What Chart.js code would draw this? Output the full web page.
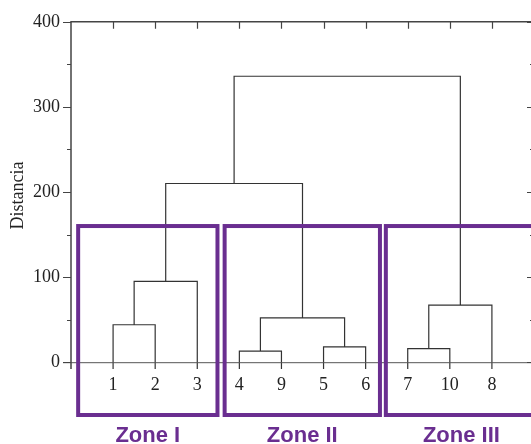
<!DOCTYPE html>
<html lang="es">
<head>
<meta charset="UTF-8">
<title>Dendrograma - Distancia</title>
<script src="https://cdn.jsdelivr.net/npm/chart.js"></script>
<style>
  html, body { margin: 0; padding: 0; background: #fff; overflow: hidden; }
</style>
</head>
<body>
<canvas id="chart" width="540" height="444"></canvas>
<script>
// hojas del dendrograma, en el orden en que se dibujan
const leafLabels = ['1', '2', '3', '4', '9', '5', '6', '7', '10', '8'];
// uniones tipo linkage: indices 0-9 son hojas, 10+ son uniones previas
const mergeA = [0, 3, 5, 7, 10, 11, 13, 14, 17];
const mergeB = [1, 4, 6, 8, 2, 12, 9, 15, 16];
const mergeHeight = [44, 13, 18, 16, 95, 52, 67, 210, 336];
const yTickLabels = [0, 100, 200, 300, 400];
const zoneNames = ['Zone I', 'Zone II', 'Zone III'];

// estilo / posiciones de los recuadros (unidades del eje x)
const Y_MIN = -8, Y_MAX = 400;
const zoneBox = { left: [0.17, 3.65, 7.48], right: [3.48, 7.34, 11.07], top: 160 };
const purple = '#6a2e90';
const lineCol = '#333';
const serif = "'Liberation Serif', 'Times New Roman', serif";

// construir los trazos en U a partir del linkage
const nodeX = leafLabels.map((_, i) => i + 1);
const nodeY = leafLabels.map(() => Y_MIN);
const points = [];
for (let i = 0; i < mergeA.length; i++) {
    const a = mergeA[i], b = mergeB[i], h = mergeHeight[i];
    points.push({x: nodeX[a], y: nodeY[a]}, {x: nodeX[a], y: h},
                {x: nodeX[b], y: h}, {x: nodeX[b], y: nodeY[b]},
                {x: nodeX[b], y: null});
    nodeX.push((nodeX[a] + nodeX[b]) / 2);
    nodeY.push(h);
}

const framePlugin = {
    id: 'frame',
    afterDatasetsDraw(chart) {
        const {ctx, chartArea: a, scales: {x, y}} = chart;
        ctx.save();
        // linea del cero
        ctx.strokeStyle = '#555';
        ctx.lineWidth = 1;
        ctx.beginPath();
        ctx.moveTo(a.left - 8, y.getPixelForValue(0) + 0.5);
        ctx.lineTo(a.right, y.getPixelForValue(0) + 0.5);
        ctx.stroke();

        // marco: izquierda, arriba, derecha
        ctx.strokeStyle = '#444';
        ctx.lineWidth = 1.5;
        ctx.beginPath();
        ctx.moveTo(a.left, a.bottom);
        ctx.lineTo(a.left, a.top);
        ctx.lineTo(a.right, a.top);
        ctx.lineTo(a.right, a.bottom);
        ctx.stroke();

        // marcas del eje y (afuera a la izquierda, adentro a la derecha)
        ctx.lineWidth = 1.2;
        ctx.beginPath();
        for (let v = 0; v <= Y_MAX; v += 50) {
            const py = Math.round(y.getPixelForValue(v)) + 0.5;
            const major = v % 100 === 0;
            ctx.moveTo(a.left, py);
            ctx.lineTo(a.left - (major ? 8 : 4), py);
            ctx.moveTo(a.right, py);
            ctx.lineTo(a.right - (major ? 7 : 4), py);
        }
        // marcas superiores hacia adentro
        leafLabels.forEach((_, i) => {
            const px = Math.round(x.getPixelForValue(i + 1)) + 0.5;
            ctx.moveTo(px, a.top);
            ctx.lineTo(px, a.top + 7);
        });
        ctx.stroke();

        // recuadros de zonas
        ctx.strokeStyle = purple;
        ctx.lineWidth = 4;
        const top = y.getPixelForValue(zoneBox.top);
        const bottom = a.bottom + 46;
        ctx.fillStyle = purple;
        ctx.font = "bold 22px 'Liberation Sans', Arial, sans-serif";
        ctx.textAlign = 'center';
        ctx.textBaseline = 'middle';
        zoneNames.forEach((name, i) => {
            const l = x.getPixelForValue(zoneBox.left[i]);
            const r = x.getPixelForValue(zoneBox.right[i]);
            ctx.strokeRect(l, top, r - l, bottom - top);
            ctx.fillText(name, (l + r) / 2, bottom + 21);
        });
        ctx.restore();
    }
};

new Chart(document.getElementById('chart'), {
    type: 'line',
    data: {
        datasets: [{
            data: points,
            borderColor: lineCol,
            borderWidth: 1.2,
            pointRadius: 0,
            tension: 0,
            spanGaps: false,
            clip: false
        }]
    },
    options: {
        responsive: false,
        animation: false,
        devicePixelRatio: 1,
        layout: { padding: { top: 21, right: 6, left: 0, bottom: 0 } },
        plugins: { legend: { display: false }, tooltip: { enabled: false } },
        scales: {
            x: {
                type: 'linear',
                min: 0,
                max: 11,
                afterBuildTicks: s => { s.ticks = leafLabels.map((_, i) => ({value: i + 1})); },
                afterFit: s => { s.height = 75; },
                grid: { display: false },
                border: { display: false },
                ticks: {
                    color: '#222',
                    font: { family: serif, size: 18 },
                    padding: -3,
                    maxRotation: 0,
                    autoSkip: false,
                    callback: v => leafLabels[v - 1]
                }
            },
            y: {
                min: Y_MIN,
                max: Y_MAX,
                afterBuildTicks: s => { s.ticks = yTickLabels.map(v => ({value: v})); },
                afterFit: s => { s.width = 71; },
                grid: { display: false, drawTicks: false },
                border: { display: false },
                ticks: {
                    color: '#222',
                    font: { family: serif, size: 18 },
                    padding: 11
                },
                title: {
                    display: true,
                    text: 'Distancia',
                    color: '#222',
                    font: { family: serif, size: 18 },
                    padding: { top: 7, bottom: 0 }
                }
            }
        }
    },
    plugins: [framePlugin]
});
</script>
</body>
</html>
